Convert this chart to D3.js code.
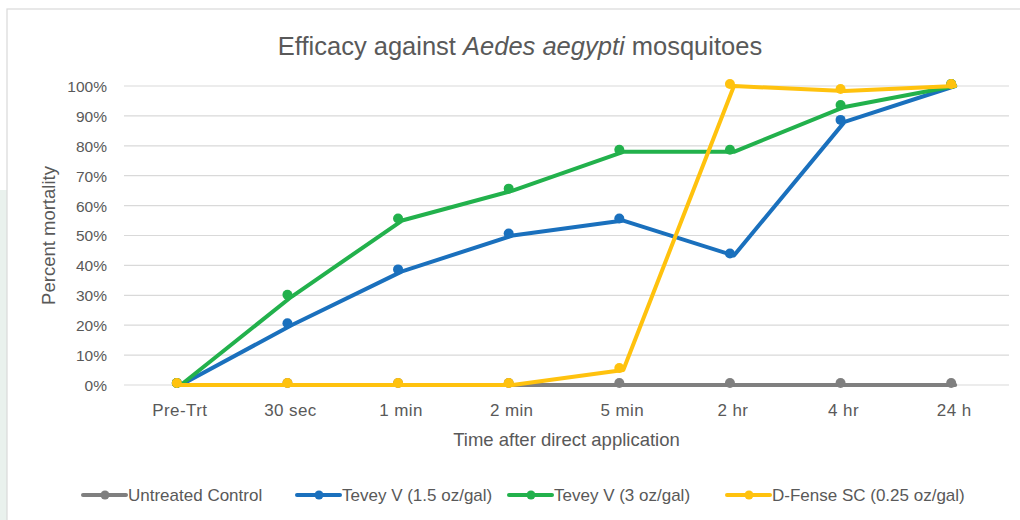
<!DOCTYPE html>
<html>
<head>
<meta charset="utf-8">
<script src="https://cdn.jsdelivr.net/npm/d3@7"></script>
<style>
  html, body { margin: 0; padding: 0; background: #fff; }
  svg { display: block; font-family: "Liberation Sans", Arial, sans-serif; }
</style>
</head>
<body>
<svg id="chart" width="1020" height="520"></svg>
<script>
// ---- Data ----
const categories = ["Pre-Trt", "30 sec", "1 min", "2 min", "5 min", "2 hr", "4 hr", "24 h"];
const seriesNames = ["Untreated Control", "Tevey V (1.5 oz/gal)", "Tevey V (3 oz/gal)", "D-Fense SC (0.25 oz/gal)"];
const untreated = [0, 0, 0, 0, 0, 0, 0, 0];
const teveyLow  = [0, 20, 38, 50, 55, 43.3, 88, 100];
const teveyHigh = [0, 29.5, 55, 65, 78, 78, 93, 100];
const dfense    = [0, 0, 0, 0, 5, 100, 98.3, 100];
const yTicks = [0, 10, 20, 30, 40, 50, 60, 70, 80, 90, 100];
const colors = ["#7f7f7f", "#1a70bd", "#22b14c", "#ffc20e"];

const allSeries = [untreated, teveyLow, teveyHigh, dfense].map((v, i) => ({ name: seriesNames[i], values: v, color: colors[i] }));

const svg = d3.select("#chart");
const textColor = "#595959";

// faint background shape at left edge and chart border
svg.append("rect").attr("x", 0).attr("y", 190).attr("width", 7).attr("height", 330).attr("fill", "#e9f1ed");
svg.append("rect").attr("x", 7).attr("y", 9).attr("width", 1020).attr("height", 520)
  .attr("fill", "#fff").attr("stroke", "#d9d9d9").attr("stroke-width", 1.2);

const plot = { left: 124, right: 1009, top: 86, bottom: 385 };

const x = d3.scalePoint().domain(categories).range([plot.left, plot.right]).padding(0.5);
const y = d3.scaleLinear().domain([0, 100]).range([plot.bottom, plot.top]);

// gridlines
svg.append("g").selectAll("line").data(yTicks).join("line")
  .attr("x1", plot.left).attr("x2", plot.right)
  .attr("y1", d => y(d)).attr("y2", d => y(d))
  .attr("stroke", "#d9d9d9").attr("stroke-width", 1.2);

// y axis labels
const yAxis = d3.axisLeft(y).tickValues(yTicks).tickFormat(d => d + "%").tickSize(0).tickPadding(0);
const gy = svg.append("g").attr("transform", `translate(${plot.left - 17},0)`).call(yAxis);
gy.select(".domain").remove();
gy.selectAll("text").attr("fill", textColor).attr("font-size", 15.5).attr("font-family", "Liberation Sans, Arial, sans-serif").attr("dy", "0.35em");

// x axis labels
const xAxis = d3.axisBottom(x).tickSize(0).tickPadding(0);
const gx = svg.append("g").attr("transform", `translate(0,416)`).call(xAxis);
gx.select(".domain").remove();
gx.selectAll("text").attr("fill", textColor).attr("font-size", 17).attr("letter-spacing", 0.4)
  .attr("font-family", "Liberation Sans, Arial, sans-serif").attr("dy", "0").attr("y", 0);

// lines
const lineOff = 1.5;
const line = d3.line().x((d, i) => x(categories[i]) + lineOff).y(d => y(d));
const gSeries = svg.append("g");
allSeries.forEach(s => {
  const g = gSeries.append("g");
  g.append("path").attr("d", line(s.values)).attr("fill", "none")
    .attr("stroke", s.color).attr("stroke-width", 4).attr("stroke-linejoin", "round").attr("stroke-linecap", "round");
  g.selectAll("circle").data(s.values).join("circle")
    .attr("cx", (d, i) => x(categories[i]) - 2.5)
    .attr("cy", d => y(d) - 2)
    .attr("r", 5).attr("fill", s.color);
});

// title
const title = svg.append("text").attr("x", 520).attr("y", 55).attr("text-anchor", "middle")
  .attr("fill", textColor).attr("font-size", 25.5);
title.append("tspan").text("Efficacy against ");
title.append("tspan").attr("font-style", "italic").text("Aedes aegypti");
title.append("tspan").text(" mosquitoes");

// axis titles
svg.append("text").attr("x", (plot.left + plot.right) / 2).attr("y", 446).attr("text-anchor", "middle")
  .attr("fill", textColor).attr("font-size", 18.5).text("Time after direct application");
svg.append("text").attr("transform", `translate(55,${(plot.top + plot.bottom) / 2}) rotate(-90)`)
  .attr("text-anchor", "middle").attr("fill", textColor).attr("font-size", 18.5).text("Percent mortality");

// legend
const legendX = [83, 297, 509, 727];
const legend = svg.append("g");
allSeries.forEach((s, i) => {
  const g = legend.append("g").attr("transform", `translate(${legendX[i]},495)`);
  g.append("line").attr("x1", 0).attr("x2", 43).attr("y1", 0).attr("y2", 0)
    .attr("stroke", s.color).attr("stroke-width", 4).attr("stroke-linecap", "round");
  g.append("circle").attr("cx", 22).attr("cy", 0).attr("r", 4.5).attr("fill", s.color);
  g.append("text").attr("x", 45).attr("y", 0).attr("dy", "0.35em").attr("fill", textColor)
    .attr("font-size", 17).text(s.name);
});
</script>
</body>
</html>
